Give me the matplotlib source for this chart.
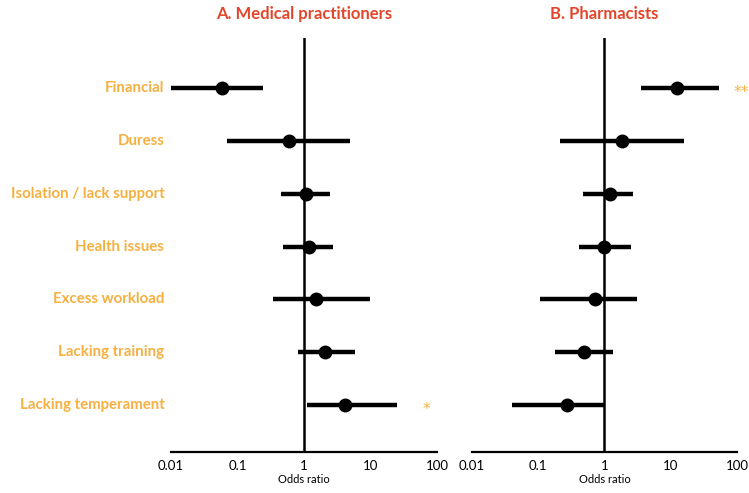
"""Forest plot: odds ratios for medical practitioners and pharmacists."""
import matplotlib
matplotlib.use("Agg")
import matplotlib.pyplot as plt
import numpy as np

categories = ["Financial", "Duress", "Isolation / lack support", "Health issues",
              "Excess workload", "Lacking training", "Lacking temperament"]

# Medical practitioners: odds ratio, lower CI, upper CI
med_or = [0.059, 0.59, 1.07, 1.19, 1.5, 2.1, 4.2]
med_lo = [0.0093, 0.069, 0.45, 0.48, 0.34, 0.81, 1.12]
med_hi = [0.24, 5.0, 2.5, 2.7, 9.8, 5.8, 25.0]
med_sig = ["", "", "", "", "", "", "*"]

# Pharmacists
pha_or = [12.4, 1.82, 1.23, 1.0, 0.71, 0.5, 0.27]
pha_lo = [3.5, 0.21, 0.47, 0.42, 0.105, 0.18, 0.041]
pha_hi = [53.0, 15.6, 2.7, 2.5, 3.1, 1.36, 1.0]
pha_sig = ["**", "", "", "", "", "", ""]

ticks = [0.01, 0.1, 1, 10, 100]
tick_labels = ["0.01", "0.1", "1", "10", "100"]

ORANGE = "#F7B040"
RED = "#E2462B"
FONT = ["Lato", "DejaVu Sans"]
plt.rcParams["font.family"] = FONT

fig = plt.figure(figsize=(7.49, 4.93), dpi=100)
ax_a = fig.add_axes([0.2283, 0.083, 0.355, 0.84])
ax_b = fig.add_axes([0.630, 0.083, 0.354, 0.84])


def draw_panel(ax, title, or_, lo, hi, sig, sig_x, sig_ha, show_labels):
    y = np.arange(len(categories))
    for yi, o, l, h in zip(y, or_, lo, hi):
        ax.plot([l, h], [yi, yi], color="black", lw=3.2, solid_capstyle="butt", zorder=2)
        ax.plot(o, yi, "o", color="black", ms=9, zorder=3)
    for yi, s in zip(y, sig):
        if s:
            ax.text(sig_x, yi + 0.08, s, color=ORANGE, fontsize=11, ha=sig_ha,
                    va="center", clip_on=False, family="DejaVu Sans")
    ax.axvline(1, color="black", lw=1.8, zorder=1)
    ax.set_xscale("log")
    ax.set_xlim(0.01, 100)
    ax.set_ylim(6.89, -0.95)
    for side in ["top", "right", "left"]:
        ax.spines[side].set_visible(False)
    ax.spines["bottom"].set_linewidth(1.6)
    ax.set_xticks(ticks)
    ax.set_xticklabels(tick_labels)
    ax.minorticks_off()
    ax.tick_params(axis="x", length=0, pad=6, labelsize=9.5)
    ax.set_yticks([])
    ax.set_xlabel("Odds ratio", fontsize=8, labelpad=1)
    ax.set_title(title, color=RED, fontsize=12, fontweight="bold", pad=14)
    if show_labels:
        for yi, c in zip(y, categories):
            ax.text(-0.025, yi, c, transform=ax.get_yaxis_transform(), ha="right",
                    va="center", color=ORANGE, fontsize=10.8, fontweight="bold")


draw_panel(ax_a, "A. Medical practitioners", med_or, med_lo, med_hi, med_sig, 60, "left", True)
draw_panel(ax_b, "B. Pharmacists", pha_or, pha_lo, pha_hi, pha_sig, 150, "right", False)

fig.savefig("out.png", dpi=100)
plt.close(fig)
